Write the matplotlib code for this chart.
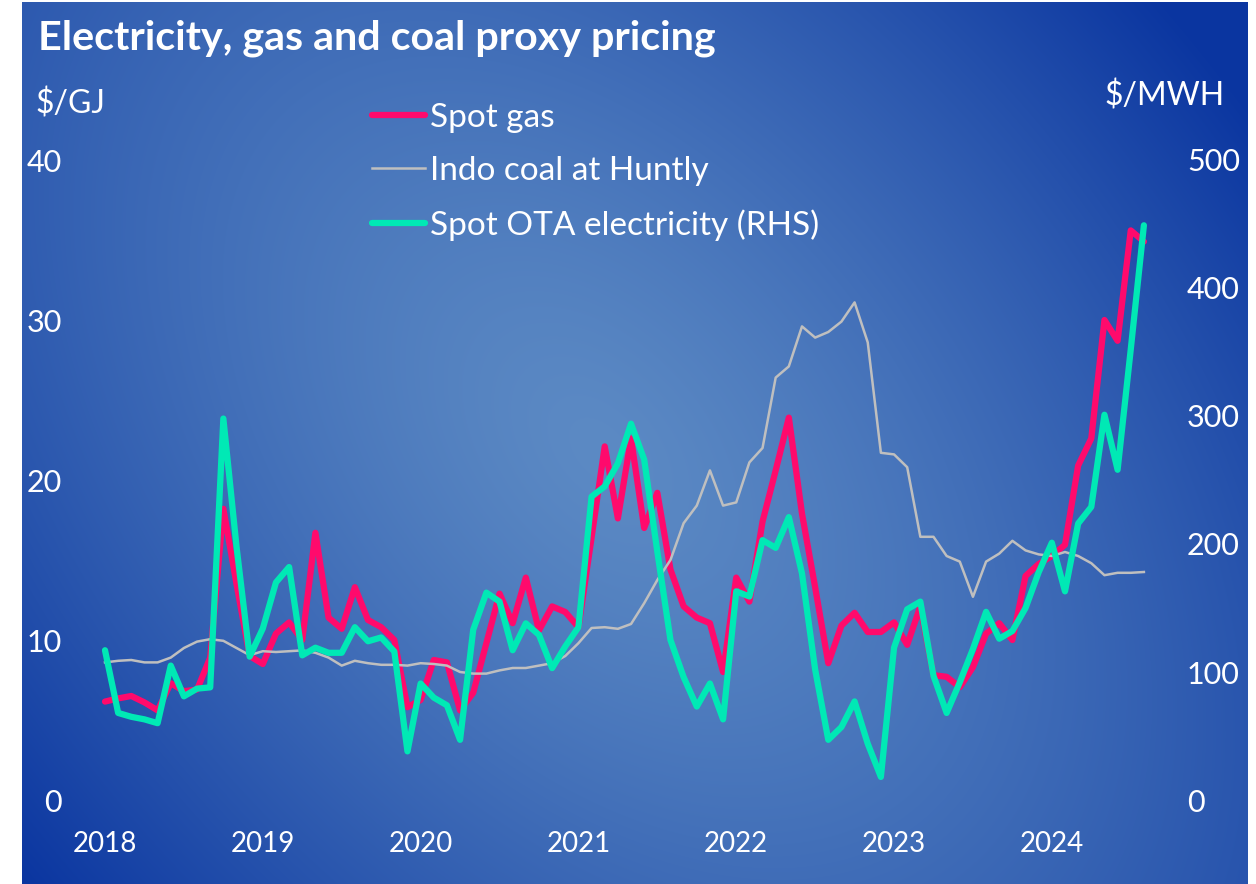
import numpy as np
import matplotlib
matplotlib.use('Agg')
import matplotlib.pyplot as plt

# ---------------- data (monthly, Jan 2018 - Aug 2024) ----------------
years = ["2018", "2019", "2020", "2021", "2022", "2023", "2024"]

spot_gas = [6.15, 6.35, 6.5, 6.1, 5.6, 7.3, 6.8, 6.9, 8.9, 18.2, 13.5, 9.0,
            8.5, 10.4, 11.1, 10.0, 16.7, 11.4, 10.7, 13.3, 11.25, 10.8, 10.0, 5.8,
            6.25, 8.75, 8.6, 5.6, 6.7, 9.8, 12.9, 11.05, 13.9, 10.6, 12.1, 11.75,
            10.8, 16.4, 22.1, 17.6, 22.6, 17.0, 19.2, 14.4, 12.1, 11.4, 11.05, 8.0,
            13.9, 12.4, 17.4, 20.6, 23.9, 17.9, 13.3, 8.55, 10.9, 11.7, 10.5, 10.5,
            11.1, 9.7, 12.1, 7.8, 7.7, 7.05, 8.3, 10.4, 11.05, 10.0, 14.0, 14.75,
            15.25, 15.95, 20.9, 22.6, 30.0, 28.7, 35.6, 34.9]

indo_coal = [8.6, 8.7, 8.75, 8.6, 8.6, 8.9, 9.5, 9.9, 10.05, 9.95, 9.5, 9.05,
             9.3, 9.25, 9.3, 9.35, 9.2, 8.9, 8.4, 8.7, 8.55, 8.45, 8.45, 8.4,
             8.55, 8.5, 8.4, 8.0, 7.9, 7.9, 8.1, 8.25, 8.25, 8.4, 8.55, 9.0,
             9.8, 10.75, 10.8, 10.7, 11.0, 12.3, 13.75, 15.0, 17.3, 18.4, 20.6, 18.4,
             18.6, 21.1, 22.0, 26.4, 27.1, 29.6, 28.9, 29.25, 29.9, 31.1, 28.6, 21.7,
             21.6, 20.8, 16.45, 16.45, 15.25, 14.9, 12.7, 14.9, 15.4, 16.2, 15.6, 15.35,
             15.25, 15.5, 15.25, 14.8, 14.05, 14.2, 14.2, 14.25]

spot_elec = [117, 68, 65, 63, 60, 105, 81, 87, 88, 298, 198, 112,
             134, 170, 182, 113, 119, 115, 115, 135, 124, 127, 116, 38,
             91, 80, 74, 47, 133, 162, 155, 117, 138, 129, 103, 120,
             135, 237, 245, 263, 294, 266, 194, 125, 96, 73, 91, 63,
             163, 159, 203, 197, 221, 177, 102, 47, 57, 77, 44, 18,
             119, 149, 155, 97, 68, 92, 118, 147, 126, 132, 150, 178,
             201, 163, 216, 229, 301, 258, 352, 449]

left_ticks = [0, 10, 20, 30, 40]
right_ticks = [0, 100, 200, 300, 400, 500]

# ---------------- style ----------------
FONT = ['Lato', 'DejaVu Sans']
plt.rcParams['font.family'] = FONT
WHITE = 'white'
RED = '#FF0A6C'
GREEN = '#00E9B5'
GREY = '#BFBFBF'

W, H, DPI = 1256, 884, 100
fig = plt.figure(figsize=(W / DPI, H / DPI), dpi=DPI)

# background gradient
bg = fig.add_axes([0, 0, 1, 1])
yy, xx = np.mgrid[0:H, 0:W].astype(float)
s = (xx - 600) * 0.74 + (yy - 450) * (-0.67)
t = (xx - 600) * 0.67 + (yy - 450) * 0.74
r = np.clip(np.sqrt((s / 720) ** 2 + (t / 1150) ** 2), 0, 1)
light = np.array([0x5C, 0x8A, 0xC4]) / 255
dark = np.array([0x0A, 0x35, 0xA0]) / 255
f = r ** 1.3
img = light[None, None, :] * (1 - f[..., None]) + dark[None, None, :] * f[..., None]
mask = (xx < 22) | (xx >= 1248) | (yy < 2)
img[mask] = 1.0
bg.imshow(img, extent=(0, W, H, 0), aspect='auto', interpolation='bilinear')
bg.set_xlim(0, W)
bg.set_ylim(H, 0)
bg.axis('off')

# main axes
L, R = 78.7, 1170.2
ax = fig.add_axes([L / W, (H - 800) / H, (R - L) / W, 640 / H])
ax.patch.set_visible(False)
x = np.arange(len(spot_gas))
ax.set_xlim(-2, 81)
ax.set_ylim(0, 40)
ax2 = ax.twinx()
ax2.set_ylim(0, 500)

l1, = ax.plot(x, spot_gas, color=RED, lw=4.5, solid_joinstyle='round',
              solid_capstyle='round', label='Spot gas', zorder=2)
l2, = ax.plot(x, indo_coal, color=GREY, lw=1.8, solid_joinstyle='round',
              label='Indo coal at Huntly', zorder=3)
l3, = ax2.plot(x, spot_elec, color=GREEN, lw=4.5, solid_joinstyle='round',
               solid_capstyle='round', label='Spot OTA electricity (RHS)')

for a in (ax, ax2):
    for sp in a.spines.values():
        sp.set_visible(False)

ax.set_yticks(left_ticks)
ax.set_yticklabels([str(v) for v in left_ticks])
ax2.set_yticks(right_ticks)
ax2.set_yticklabels([str(v) for v in right_ticks])
ax.set_xticks([12 * i for i in range(len(years))])
ax.set_xticklabels(years)

ax.tick_params(axis='y', length=0, pad=12, labelsize=22, labelcolor=WHITE)
ax2.tick_params(axis='y', length=0, pad=12, labelsize=22, labelcolor=WHITE)
ax.tick_params(axis='x', length=0, pad=22, labelsize=20, labelcolor=WHITE)

leg = ax2.legend(handles=[l1, l2, l3], loc='upper left',
                 bbox_to_anchor=(372 / W, 1 - 103 / H), bbox_transform=fig.transFigure,
                 frameon=False, fontsize=24, handlelength=1.58, handletextpad=0.15,
                 labelspacing=0.69, borderpad=0, borderaxespad=0)
for txt in leg.get_texts():
    txt.set_color(WHITE)

fig.text(38 / W, 1 - 38 / H, 'Electricity, gas and coal proxy pricing',
         color=WHITE, fontsize=29.7, fontweight='bold', va='center', ha='left')
fig.text(35 / W, 1 - 104 / H, '$/GJ', color=WHITE, fontsize=23, va='center', ha='left')
fig.text(1225 / W, 1 - 96 / H, '$/MWH', color=WHITE, fontsize=23, va='center', ha='right')

fig.savefig('out.png', dpi=DPI)
